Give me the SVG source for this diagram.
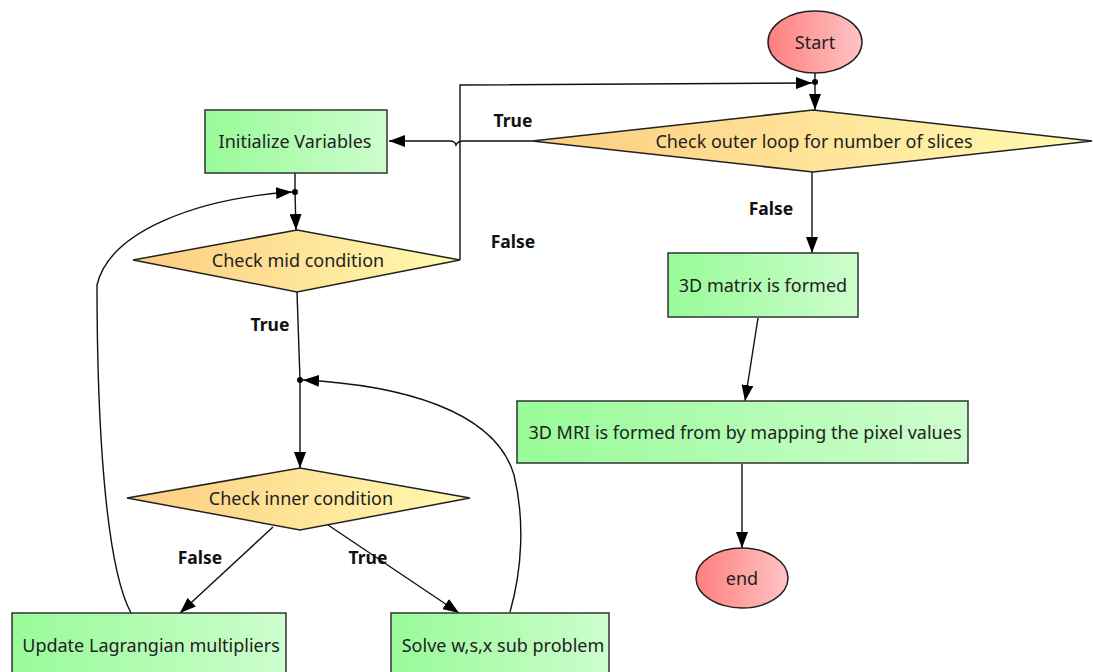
<svg xmlns="http://www.w3.org/2000/svg" width="1093" height="672" viewBox="0 0 1093 672">
  <defs>
    <linearGradient id="gBox" x1="0" y1="0" x2="1" y2="0">
      <stop offset="0" stop-color="#98fb98"/>
      <stop offset="1" stop-color="#cdfdcd"/>
    </linearGradient>
    <linearGradient id="gDia" x1="0" y1="0" x2="1" y2="0">
      <stop offset="0" stop-color="#fdcc80"/>
      <stop offset="1" stop-color="#fffbb0"/>
    </linearGradient>
    <linearGradient id="gEll" x1="0" y1="0" x2="1" y2="0">
      <stop offset="0" stop-color="#ff7f7f"/>
      <stop offset="1" stop-color="#ffc4c4"/>
    </linearGradient>
    <marker id="arr" viewBox="0 0 16 12" refX="16" refY="6" markerWidth="16" markerHeight="12" markerUnits="userSpaceOnUse" orient="auto">
      <path d="M0,0 L16,6 L0,12 Z" fill="#000"/>
    </marker>
  </defs>
  <style>
    .box { fill: url(#gBox); stroke: #333; stroke-width: 1.5; }
    .dia { fill: url(#gDia); stroke: #222; stroke-width: 1.5; }
    .ell { fill: url(#gEll); stroke: #222; stroke-width: 1.5; }
    .t { font-family: "Noto Sans", "Open Sans", sans-serif; font-size: 18px; fill: #222; text-anchor: middle; dominant-baseline: central; }
    .lbl { font-family: "Noto Sans", "Open Sans", sans-serif; font-size: 17.5px; font-weight: bold; fill: #111; text-anchor: middle; dominant-baseline: central; }
    .c { fill: none; stroke: #111; stroke-width: 1.4; }
    .a { fill: none; stroke: #111; stroke-width: 1.4; marker-end: url(#arr); }
  </style>

  <rect width="1093" height="672" fill="#fff"/>

  <g id="connectors">
    <!-- start to outer check, via junction -->
    <path class="c" d="M815,73 L815,82"/>
    <path class="a" d="M815,82 L815,110"/>
    <circle cx="815" cy="82" r="3" fill="#000"/>
    <!-- outer check True -> initialize, hopping over the vertical return line -->
    <path class="a" d="M532,141 L463,141 Q458,141 456,145 Q455,141 450,141 L389,141"/>
    <!-- mid condition False -> back to outer check -->
    <path class="a" d="M460,260 L460,85 L812,83"/>
    <!-- initialize to mid check via junction -->
    <path class="c" d="M295,173 L295,192"/>
    <path class="a" d="M295,192 L296,230"/>
    <circle cx="295" cy="192" r="3" fill="#000"/>
    <!-- update loop back to junction -->
    <path class="a" d="M131,613 C105,565 97,420 97,285 C110,230 200,198 292,192"/>
    <!-- mid True -> inner junction -->
    <path class="c" d="M297,292 L300,380"/>
    <path class="a" d="M300,380 L300,468"/>
    <circle cx="300" cy="380" r="3" fill="#000"/>
    <!-- solve loop back to inner junction -->
    <path class="a" d="M510,612 C522,570 525,520 514,475 C495,410 400,385 303,380"/>
    <!-- inner False / True -->
    <path class="a" d="M273,527 L180,613"/>
    <path class="a" d="M328,525 L459,613"/>
    <!-- outer False -> 3D matrix -->
    <path class="a" d="M812,172 L812,253"/>
    <!-- 3D matrix -> MRI -->
    <path class="a" d="M758,318 L745,401"/>
    <!-- MRI -> end -->
    <path class="a" d="M742,464 L742,548"/>

    <text class="lbl" x="513" y="120">True</text>
    <text class="lbl" x="513" y="241">False</text>
    <text class="lbl" x="771" y="208">False</text>
    <text class="lbl" x="270" y="324">True</text>
    <text class="lbl" x="200" y="557">False</text>
    <text class="lbl" x="368" y="557">True</text>
  </g>

  <g id="start">
    <ellipse class="ell" cx="815" cy="42" rx="47" ry="31"/>
    <text class="t" x="815" y="42">Start</text>
  </g>

  <g id="outer-check">
    <polygon class="dia" points="532,141 813,110 1092,141 813,172"/>
    <text class="t" x="814" y="141">Check outer loop for number of slices</text>
  </g>

  <g id="initialize">
    <rect class="box" x="205" y="110" width="182" height="63"/>
    <text class="t" x="295" y="141">Initialize Variables</text>
  </g>

  <g id="mid-check">
    <polygon class="dia" points="133,260 297,230 460,260 297,292"/>
    <text class="t" x="298" y="260">Check mid condition</text>
  </g>

  <g id="inner-check">
    <polygon class="dia" points="127,498 300,468 470,498 300,530"/>
    <text class="t" x="301" y="498">Check inner condition</text>
  </g>

  <g id="update">
    <rect class="box" x="12" y="613" width="274" height="70"/>
    <text class="t" x="151" y="645">Update Lagrangian multipliers</text>
  </g>

  <g id="solve">
    <rect class="box" x="391" y="613" width="218" height="70"/>
    <text class="t" x="503" y="645">Solve w,s,x sub problem</text>
  </g>

  <g id="matrix">
    <rect class="box" x="668" y="253" width="190" height="64"/>
    <text class="t" x="763" y="285">3D matrix is formed</text>
  </g>

  <g id="mri">
    <rect class="box" x="517" y="401" width="451" height="62"/>
    <text class="t" x="745" y="432">3D MRI is formed from by mapping the pixel values</text>
  </g>

  <g id="end">
    <ellipse class="ell" cx="742" cy="578" rx="46" ry="30"/>
    <text class="t" x="742" y="578">end</text>
  </g>
</svg>
